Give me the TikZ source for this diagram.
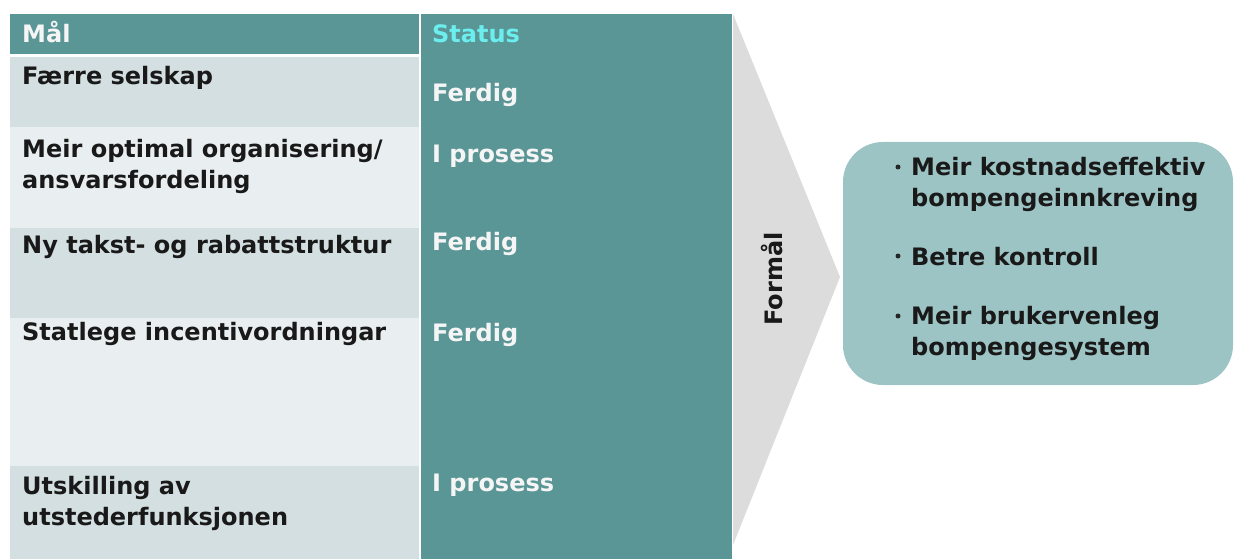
\documentclass[tikz,border=0pt]{standalone}
\usepackage{fontspec}
\setmainfont{DejaVu Sans}
\usetikzlibrary{positioning}
\definecolor{headteal}{HTML}{5B9696}
\definecolor{rowdark}{HTML}{D3DFE0}
\definecolor{rowlight}{HTML}{E9EFF0}
\definecolor{arrowgray}{HTML}{DCDCDC}
\definecolor{boxteal}{HTML}{9DC4C4}
\definecolor{statuscyan}{HTML}{6CEEEE}
\tikzset{
  txt/.style={anchor=base west, inner sep=0pt, align=left,
    font=\bfseries\fontsize{24}{30.5}\selectfont},
  goaltxt/.style={txt, text=black!90},
  statustxt/.style={txt, text=white!96!black},
  bulletdot/.style={fill=black!85}
}
\begin{document}
\begin{tikzpicture}[x=1pt,y=-1pt]
\useasboundingbox (0,0) rectangle (1237,559);

% table
\fill[headteal] (10,14) rectangle (419,54);
\fill[headteal] (421,14) rectangle (732,559);
\foreach \top/\bot/\col in {57/127/rowdark, 127/228/rowlight, 228/318/rowdark,
  318/466/rowlight, 466/559/rowdark}
  \fill[\col] (10,\top) rectangle (419,\bot);

% chevron and purpose box
\fill[arrowgray] (733,14) -- (840,277) -- (733,545) -- cycle;
\fill[boxteal, rounded corners=40pt] (843,142) rectangle (1233,385);

% headers (base = last line)
\node[statustxt] (maal) at (22,43) {Mål};
\node[txt, text=statuscyan] (status) at (432,43) {Status};

% goals
\node[goaltxt] (goal1) at (22,85) {Færre selskap};
\node[goaltxt] (goal2) at (22,188) {Meir optimal organisering/\\ansvarsfordeling};
\node[goaltxt] (goal3) at (22,253) {Ny takst- og rabattstruktur};
\node[goaltxt] (goal4) at (22,340) {Statlege incentivordningar};
\node[goaltxt] (goal5) at (22,525) {Utskilling av\\utstederfunksjonen};

% status
\node[statustxt] (stat1) at (432,102) {Ferdig};
\node[statustxt] (stat2) at (432,163) {I prosess};
\node[statustxt] (stat3) at (432,250) {Ferdig};
\node[statustxt] (stat4) at (432,341) {Ferdig};
\node[statustxt] (stat5) at (432,491) {I prosess};

% purpose
\node[txt, rotate=90, anchor=center, text=black!90] (formaal) at (772,279) {Formål};
\node[goaltxt] (purp1) at (911,206) {Meir kostnadseffektiv\\bompengeinnkreving};
\node[goaltxt] (purp2) at (911,265) {Betre kontroll};
\node[goaltxt] (purp3) at (911,355) {Meir brukervenleg\\bompengesystem};
\foreach \p/\n in {purp1/1, purp2/0, purp3/1}
  \fill[bulletdot] ([xshift=-13pt,yshift={9pt+\n*30pt}]\p.base west) circle (2.5pt);

\end{tikzpicture}
\end{document}
